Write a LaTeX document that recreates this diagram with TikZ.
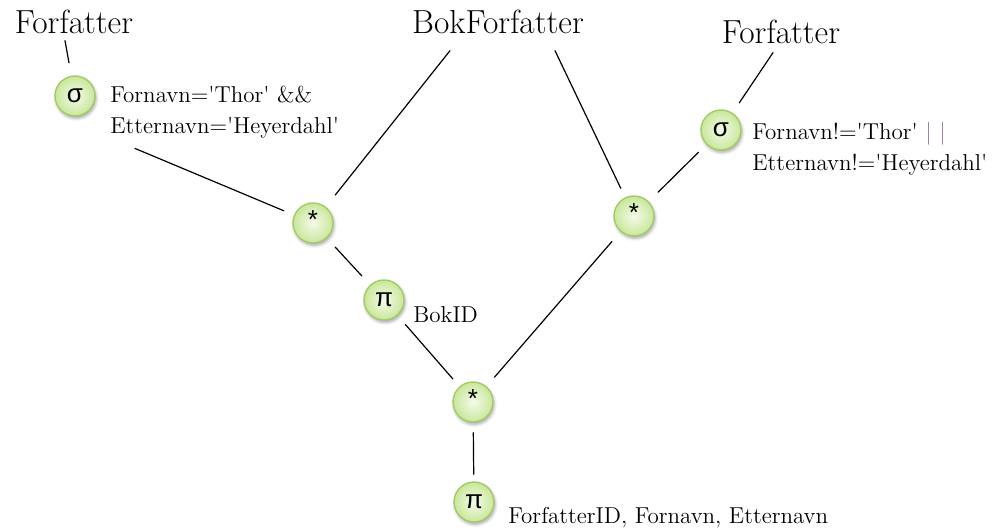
\documentclass[tikz,border=0pt]{standalone}
\usepackage{fontspec}
\newfontfamily\opfont{Liberation Sans}
\usetikzlibrary{shadows.blur}
\definecolor{opfill}{HTML}{C9E79A}
\definecolor{opedge}{HTML}{A2CB66}
\definecolor{orbar}{HTML}{8E7A9E}
\newcommand{\squote}{\textquotesingle}
\begin{document}
\begin{tikzpicture}[x=0.5pt,y=-0.5pt, line join=round, line cap=round]
	\tikzset{op/.style={circle, minimum size=20pt, inner sep=0pt, draw=opedge, line width=0.7pt,
		inner color=opfill!20!white, outer color=opfill,
		blur shadow={shadow xshift=0.6pt, shadow yshift=-1.2pt, shadow blur radius=1.5pt, shadow opacity=35},
		font=\opfont\fontsize{13}{13}\selectfont},
	rel/.style={inner sep=0pt, font=\fontsize{16.7}{20}\selectfont},
	cond/.style={inner sep=0pt, align=left, font=\fontsize{11.5}{15.25}\selectfont},
	edge/.style={line width=0.6pt}}
	\useasboundingbox (0,0) rectangle (995,530);
	% relations
	\node[rel, anchor=base] (f1) at (74,33) {Forfatter};
	\node[rel, anchor=base] (bf) at (498,33) {BokForfatter};
	\node[rel, anchor=base] (f2) at (781,43) {Forfatter};
	% operators
	\node[op] (s1) at (75,96) {σ};
	\node[op] (s2) at (721,130) {σ};
	\node[op] (j1) at (313,223) {\smash{\raisebox{-2.5pt}{*}}};
	\node[op] (j2) at (634,216) {\smash{\raisebox{-2.5pt}{*}}};
	\node[op] (p1) at (384,300) {π};
	\node[op] (j3) at (473,402) {\smash{\raisebox{-2.5pt}{*}}};
	\node[op] (p2) at (474,502) {π};
	% conditions and attribute lists
	\node[cond, anchor=north west] (c1) at (110,86) {Fornavn=\squote Thor\squote{} \&\&\\Etternavn=\squote Heyerdahl\squote};
	\node[cond, anchor=north west] (c2) at (752,122) {Fornavn!=\squote Thor\squote{} {\color{orbar}| |}\\Etternavn!=\squote Heyerdahl\squote};
	\node[cond, anchor=base west] (a1) at (413,322) {BokID};
	\node[cond, anchor=base west] (a2) at (508,523) {ForfatterID, Fornavn, Etternavn};
	% edges
	\draw[edge, shorten >=6.5pt] ([xshift=-4.5pt,yshift=-3.5pt]f1.south) -- (s1);
	\draw[edge, shorten >=5.5pt] ([shift={(12.5pt,-5pt)}]c1.south west) -- (j1);
	\draw[edge, shorten >=7.5pt] ([xshift=-24pt,yshift=-8.5pt]bf.south) -- (j1);
	\draw[edge, shorten >=5pt] ([xshift=28.5pt,yshift=-8.5pt]bf.south) -- (j2);
	\draw[edge, shorten >=6pt] ([xshift=-4pt,yshift=-4.5pt]f2.south) -- (s2);
	\draw[edge, shorten <=5.5pt, shorten >=6.5pt] (s2) -- (j2);
	\draw[edge, shorten <=6pt, shorten >=6pt] (j1) -- (p1);
	\draw[edge, shorten <=6pt, shorten >=5pt] (p1) -- (j3);
	\draw[edge, shorten <=6.5pt, shorten >=6pt] (j2) -- (j3);
	\draw[edge, shorten <=5pt, shorten >=3.5pt] (j3) -- (p2);
\end{tikzpicture}
\end{document}
